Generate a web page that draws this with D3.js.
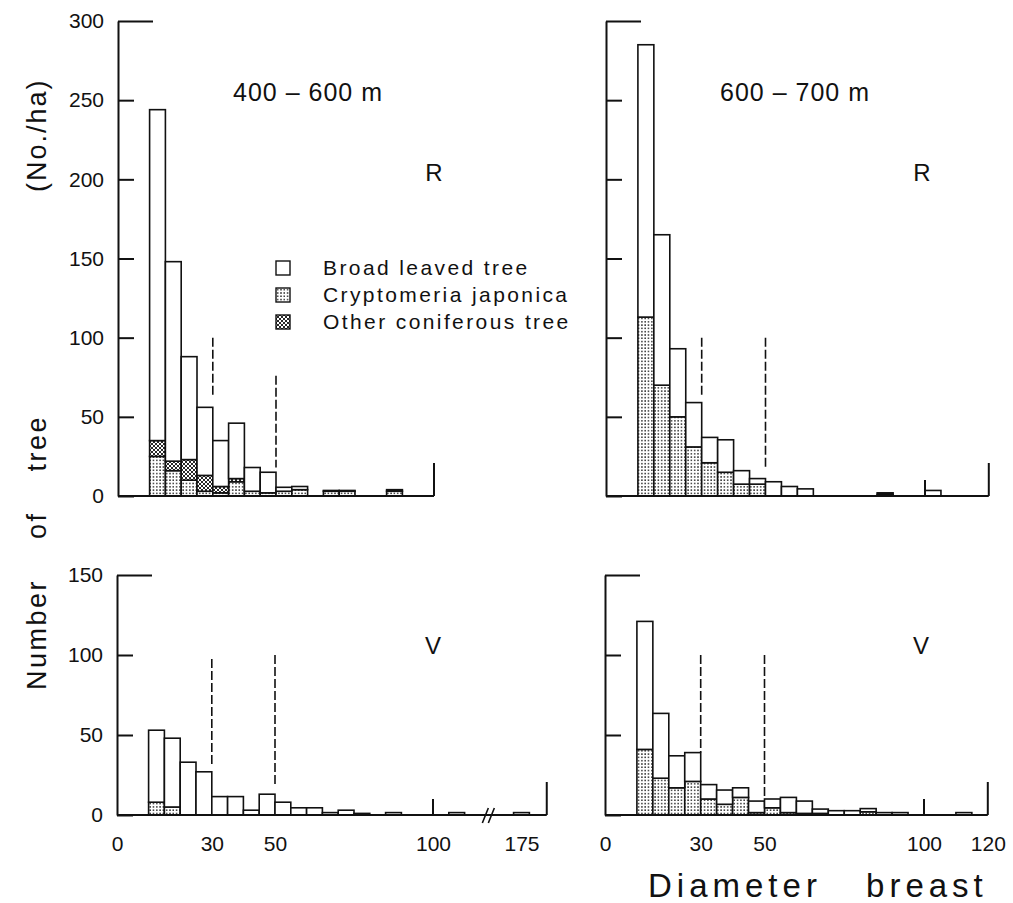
<!DOCTYPE html>
<html>
<head>
<meta charset="utf-8">
<script src="https://cdn.jsdelivr.net/npm/d3@7"></script>
<style>
  body { margin: 0; background: #fff; }
  svg { display: block; font-family: "Liberation Sans", Arial, sans-serif; }
</style>
</head>
<body>
<svg id="chart" width="1013" height="903"></svg>
<script>
// diameter classes, lower bound in cm (5 cm wide)
const binsR400 = [10,15,20,25,30,35,40,45,50,55,60,65,70,75,80,85];
const broadR400 = [209,126,65,43,29,35,15,13,2.5,2,0,0.5,0.5,0,0,1];
const cryptoR400 = [25,16,10,3,2,9,3,2,3,4,0,3,3,0,0,3];
const otherR400 = [10,6,13,10,4,2,0,0,0,0,0,0,0,0,0,0];

const binsR600 = [10,15,20,25,30,35,40,45,50,55,60,65,70,75,80,85,90,95,100];
const broadR600 = [172,95,43,28,16,20.5,8.5,3.5,9,6,4.5,0,0,0,0,1,0,0,3.5];
const cryptoR600 = [113,70,50,31,21,15,7.5,7.5,0,0,0,0,0,0,0,1,0,0,0];
const otherR600 = [0,0,0,0,0,0,0,0,0,0,0,0,0,0,0,0,0,0,0];

// last class is the one beyond the axis break (centred on 175 cm)
const binsV400 = [10,15,20,25,30,35,40,45,50,55,60,65,70,75,80,85,90,95,100,105,172.5];
const broadV400 = [45,43,33,27,11.5,11.5,3,13,8,4.5,4.5,1.5,3,1,0,1.5,0,0,0,1.5,1.5];
const cryptoV400 = [8,5,0,0,0,0,0,0,0,0,0,0,0,0,0,0,0,0,0,0,0];
const otherV400 = [0,0,0,0,0,0,0,0,0,0,0,0,0,0,0,0,0,0,0,0,0];

const binsV600 = [10,15,20,25,30,35,40,45,50,55,60,65,70,75,80,85,90,95,100,105,110];
const broadV600 = [80,40.5,20,18,9,8.9,6,7.2,5.5,9.5,7.7,2.7,2.7,2.7,2,1.5,1.5,0,0,0,1.5];
const cryptoV600 = [41,23,17,21,10,6.7,11,1.5,4.5,1.5,1,1,0,0,2,0,0,0,0,0,0];
const otherV600 = [0,0,0,0,0,0,0,0,0,0,0,0,0,0,0,0,0,0,0,0,0];

// dashed guide lines at 30 and 50 cm: [diameter, from, to] in No./ha
const guidesR400 = [[30,100,63],[50,76,18]];
const guidesR600 = [[30,100,63],[50,100,18]];
const guidesV400 = [[30,97.5,30],[50,100,18]];
const guidesV600 = [[30,100,39],[50,100,10.5]];

const yTicksR = [0,50,100,150,200,250,300];
const yTicksV = [0,50,100,150];
const xTicksLeft = [0,30,50,100,175];
const xTicksRight = [0,30,50,100,120];

const legendLabels = ["Broad leaved tree","Cryptomeria japonica","Other coniferous tree"];

const svg = d3.select("#chart");
svg.append("rect").attr("width",1013).attr("height",903).attr("fill","#fff");

// fill patterns
const defs = svg.append("defs");
const dots = defs.append("pattern").attr("id","dots")
  .attr("patternUnits","userSpaceOnUse").attr("width",3.3).attr("height",3.3);
dots.append("rect").attr("width",3.3).attr("height",3.3).attr("fill","#fff");
dots.append("rect").attr("x",1).attr("y",1).attr("width",1.4).attr("height",1.4).attr("fill","#111");

const hatch = defs.append("pattern").attr("id","hatch")
  .attr("patternUnits","userSpaceOnUse").attr("width",4).attr("height",4);
hatch.append("rect").attr("width",4).attr("height",4).attr("fill","#fff");
hatch.append("path").attr("d","M0,0L4,4M4,0L0,4M-1,3L1,5M3,-1L5,1M3,5L5,3M-1,1L1,-1")
  .attr("stroke","#111").attr("stroke-width",0.9);

const fills = { crypto: "url(#dots)", other: "url(#hatch)", broad: "#fff" };

// scales (left panels share one x scale, right panels another)
const kL = 3.16, kR = 3.19;
const xTL = d3.scaleLinear().domain([0,100]).range([118, 118 + 100*kL]);
const xBL = d3.scaleLinear().domain([0,116,172.5,183])
  .range([117, 117 + 116*kL, 117 + 125.5*kL, 117 + 136*kL]);
const xTR = d3.scaleLinear().domain([0,120]).range([606, 606 + 120*kR]);
const xBR = d3.scaleLinear().domain([0,120]).range([605, 605 + 120*kR]);
const yTop = d3.scaleLinear().domain([0,300]).range([496, 21]);
const yBot = d3.scaleLinear().domain([0,150]).range([815, 575]);

const panels = [
  { bins: binsR400, broad: broadR400, crypto: cryptoR400, other: otherR400, guides: guidesR400,
    x: xTL, y: yTop, yTicks: yTicksR, yLabels: true, xEnd: 100, xMarks: [],
    title: "400 – 600 m", titleX: 233, site: "R", siteY: 181 },
  { bins: binsR600, broad: broadR600, crypto: cryptoR600, other: otherR600, guides: guidesR600,
    x: xTR, y: yTop, yTicks: yTicksR, yLabels: false, xEnd: 120, xMarks: [100],
    title: "600 – 700 m", titleX: 720, site: "R", siteY: 181 },
  { bins: binsV400, broad: broadV400, crypto: cryptoV400, other: otherV400, guides: guidesV400,
    x: xBL, y: yBot, yTicks: yTicksV, yLabels: true, xEnd: 183, xMarks: [100],
    xTicks: xTicksLeft, breakAt: 125, site: "V", siteY: 654 },
  { bins: binsV600, broad: broadV600, crypto: cryptoV600, other: otherV600, guides: guidesV600,
    x: xBR, y: yBot, yTicks: yTicksV, yLabels: false, xEnd: 120, xMarks: [100],
    xTicks: xTicksRight, site: "V", siteY: 654 }
];

const stack = d3.stack().keys(["crypto","other","broad"]);

panels.forEach(p => {
  const g = svg.append("g");
  const table = p.bins.map((b, i) => ({
    lo: b, hi: b + 5, crypto: p.crypto[i], other: p.other[i], broad: p.broad[i]
  }));
  const series = stack(table);

  // bars
  g.selectAll("g.layer").data(series).join("g")
    .attr("class","layer")
    .attr("fill", s => fills[s.key])
    .selectAll("rect")
    .data(s => s.filter(d => d[1] - d[0] > 0))
    .join("rect")
      .attr("x", d => p.x(d.data.lo))
      .attr("width", d => p.x(d.data.hi) - p.x(d.data.lo))
      .attr("y", d => p.y(d[1]))
      .attr("height", d => p.y(d[0]) - p.y(d[1]))
      .attr("stroke","#111").attr("stroke-width",1.6);

  // y axis, ticks pointing inward
  const yAxis = d3.axisLeft(p.y).tickValues(p.yTicks)
    .tickSizeInner(-16).tickSizeOuter(0).tickPadding(14)
    .tickFormat(p.yLabels ? d3.format("d") : () => "");
  const ga = g.append("g").attr("transform", `translate(${p.x(0)},0)`).call(yAxis);
  ga.attr("font-family", null).attr("font-size", 21);
  ga.select(".domain").attr("stroke","#111").attr("stroke-width",2);
  ga.selectAll(".tick line").attr("stroke","#111").attr("stroke-width",2);
  const topTick = d3.max(p.yTicks);
  ga.selectAll(".tick").filter(d => d === topTick).select("line").attr("x2", 35);
  ga.selectAll(".tick text").attr("fill","#111");

  // x baseline and the few marks on it
  g.append("line")
    .attr("x1", p.x(0)).attr("x2", p.x(p.xEnd))
    .attr("y1", p.y(0)).attr("y2", p.y(0))
    .attr("stroke","#111").attr("stroke-width",2);
  g.selectAll("line.xmark").data(p.xMarks).join("line")
    .attr("class","xmark")
    .attr("x1", d => p.x(d)).attr("x2", d => p.x(d))
    .attr("y1", p.y(0)).attr("y2", p.y(0) - 16)
    .attr("stroke","#111").attr("stroke-width",2);
  g.append("line")
    .attr("x1", p.x(p.xEnd)).attr("x2", p.x(p.xEnd))
    .attr("y1", p.y(0)).attr("y2", p.y(0) - 33)
    .attr("stroke","#111").attr("stroke-width",2);

  if (p.breakAt) {
    const bx = p.x(p.breakAt), by = p.y(0);
    g.append("path")
      .attr("d", `M${bx-6},${by+8}L${bx},${by-7}M${bx},${by+8}L${bx+6},${by-7}`)
      .attr("stroke","#111").attr("stroke-width",1.6).attr("fill","none");
  }

  if (p.xTicks) {
    const xa = g.append("g").attr("transform", `translate(0,${p.y(0)})`)
      .call(d3.axisBottom(p.x).tickValues(p.xTicks).tickSize(0).tickPadding(21)
        .tickFormat(d3.format("d")));
    xa.attr("font-family", null).attr("font-size", 21);
    xa.select(".domain").remove();
    xa.selectAll(".tick text").attr("fill","#111");
  }

  // dashed guides
  g.selectAll("line.guide").data(p.guides).join("line")
    .attr("class","guide")
    .attr("x1", d => p.x(d[0])).attr("x2", d => p.x(d[0]))
    .attr("y1", d => p.y(d[1])).attr("y2", d => p.y(d[2]))
    .attr("stroke","#111").attr("stroke-width",1.6).attr("stroke-dasharray","9,3");

  if (p.title) {
    g.append("text").attr("x", p.titleX).attr("y", 101)
      .attr("font-size", 25).attr("letter-spacing", 1).attr("fill","#111").text(p.title);
  }
  g.append("text").attr("x", p.x(0) + 316).attr("y", p.siteY)
    .attr("text-anchor","middle").attr("font-size", 24).attr("fill","#111")
    .text(p.site);
});

// legend
const legend = svg.append("g").attr("transform","translate(276,261)");
const lrow = legend.selectAll("g").data(legendLabels).join("g")
  .attr("transform", (d, i) => `translate(0,${i*27})`);
lrow.append("rect").attr("width",14).attr("height",14)
  .attr("fill", (d, i) => [fills.broad, fills.crypto, fills.other][i])
  .attr("stroke","#111").attr("stroke-width",1.4);
lrow.append("text").attr("x",47).attr("y",14)
  .attr("font-size",21).attr("letter-spacing",2.4).attr("fill","#111")
  .text(d => d);

// axis titles
svg.append("text").attr("transform","translate(46,690) rotate(-90)")
  .attr("font-size",27).attr("letter-spacing",2.5).attr("word-spacing",30)
  .attr("fill","#111").text("Number of tree");
svg.append("text").attr("transform","translate(46,192) rotate(-90)")
  .attr("font-size",27).attr("letter-spacing",2)
  .attr("fill","#111").text("(No./ha)");
svg.append("text").attr("x",648).attr("y",897)
  .attr("font-size",33).attr("letter-spacing",5).attr("word-spacing",30)
  .attr("fill","#111").text("Diameter breast");
</script>
</body>
</html>
